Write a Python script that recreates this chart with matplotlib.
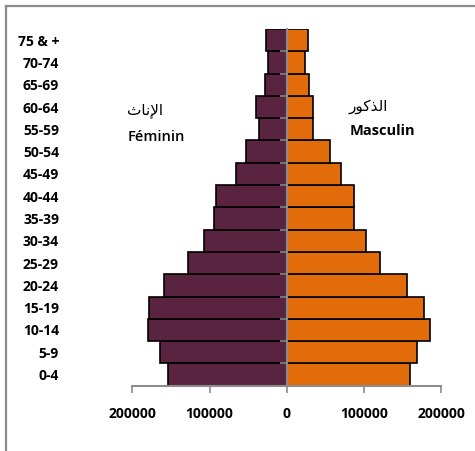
import matplotlib
matplotlib.use("Agg")
import matplotlib.pyplot as plt
from matplotlib.lines import Line2D

AGE_GROUPS = ["0-4", "5-9", "10-14", "15-19", "20-24", "25-29", "30-34", "35-39",
              "40-44", "45-49", "50-54", "55-59", "60-64", "65-69", "70-74", "75 & +"]
FEMALE = [154000, 164300, 180300, 178000, 158700, 127700, 107800, 94400,
          91800, 66400, 52200, 36200, 39700, 28000, 23700, 26700]
MALE = [159500, 168000, 186000, 178000, 156000, 121000, 103000, 87000,
        86700, 70000, 56000, 33600, 33600, 29000, 24000, 28000]
X_TICKS = [-200000, -100000, 0, 100000, 200000]
X_TICK_LABELS = ["200000", "100000", "0", "100000", "200000"]

# arabic written in presentation forms, visual order (matplotlib does no shaping)
FEMALE_AR = "\ufe99\ufe8e\ufee7\ufef9\ufe8d"   # الإناث
MALE_AR = "\ufead\ufeee\ufedb\ufeac\ufedf\ufe8d"  # الذكور

FEMALE_COLOR = "#5a2340"
MALE_COLOR = "#e36c0a"
GRAY = "#8c8c8c"

plt.rcParams["font.family"] = ["Open Sans", "DejaVu Sans"]

fig = plt.figure(figsize=(4.75, 4.51), dpi=100)
ax = fig.add_axes([132.3 / 475, 1 - 385.7 / 451, 309 / 475, 356.7 / 451])

pos = range(len(AGE_GROUPS))
ax.barh(pos, [-v for v in FEMALE], height=1.0, color=FEMALE_COLOR,
        edgecolor="black", linewidth=1.2)
ax.barh(pos, MALE, height=1.0, color=MALE_COLOR, edgecolor="black", linewidth=1.2)

ax.set_xlim(-200000, 200000)
ax.set_ylim(-0.5, len(AGE_GROUPS) - 0.5)

for s in ["top", "right"]:
    ax.spines[s].set_visible(False)
ax.spines["left"].set_position(("data", 0))
ax.spines["left"].set_color(GRAY)
ax.spines["left"].set_linewidth(1.5)
ax.spines["left"].set_zorder(3)
ax.spines["bottom"].set_color(GRAY)
ax.spines["bottom"].set_linewidth(1.5)

ax.set_xticks(X_TICKS, X_TICK_LABELS)
ax.tick_params(axis="x", length=5, width=1.2, color=GRAY, pad=10,
               labelsize=10)
for t in ax.get_xticklabels():
    t.set_fontweight("bold")

ax.set_yticks(list(pos), AGE_GROUPS)
ax.set_yticks([p - 0.5 for p in pos][1:], minor=True)
ax.tick_params(axis="y", which="major", length=0, pad=164, labelsize=10)
ax.tick_params(axis="y", which="minor", length=5, width=1.2, color=GRAY)
for t in ax.get_yticklabels():
    t.set_fontweight("bold")

fig.text(127 / 475, 1 - 111 / 451, FEMALE_AR, family=["DejaVu Sans"],
         fontsize=11, va="center", ha="left")
fig.text(128 / 475, 1 - 137 / 451, "Féminin", fontsize=10.5,
         fontweight="semibold", va="center", ha="left")
fig.text(349 / 475, 1 - 107 / 451, MALE_AR, family=["DejaVu Sans"],
         fontsize=11, va="center", ha="left")
fig.text(350 / 475, 1 - 131 / 451, "Masculin", fontsize=10.5,
         fontweight="bold", va="center", ha="left")

# chart area border (only top and left are inside the crop)
fig.add_artist(Line2D([6 / 475, 6 / 475], [0, 1 - 6 / 451], color=GRAY,
                      linewidth=1.6, transform=fig.transFigure))
fig.add_artist(Line2D([6 / 475, 1], [1 - 6 / 451, 1 - 6 / 451], color=GRAY,
                      linewidth=1.6, transform=fig.transFigure))

fig.savefig("out.png", dpi=100)
